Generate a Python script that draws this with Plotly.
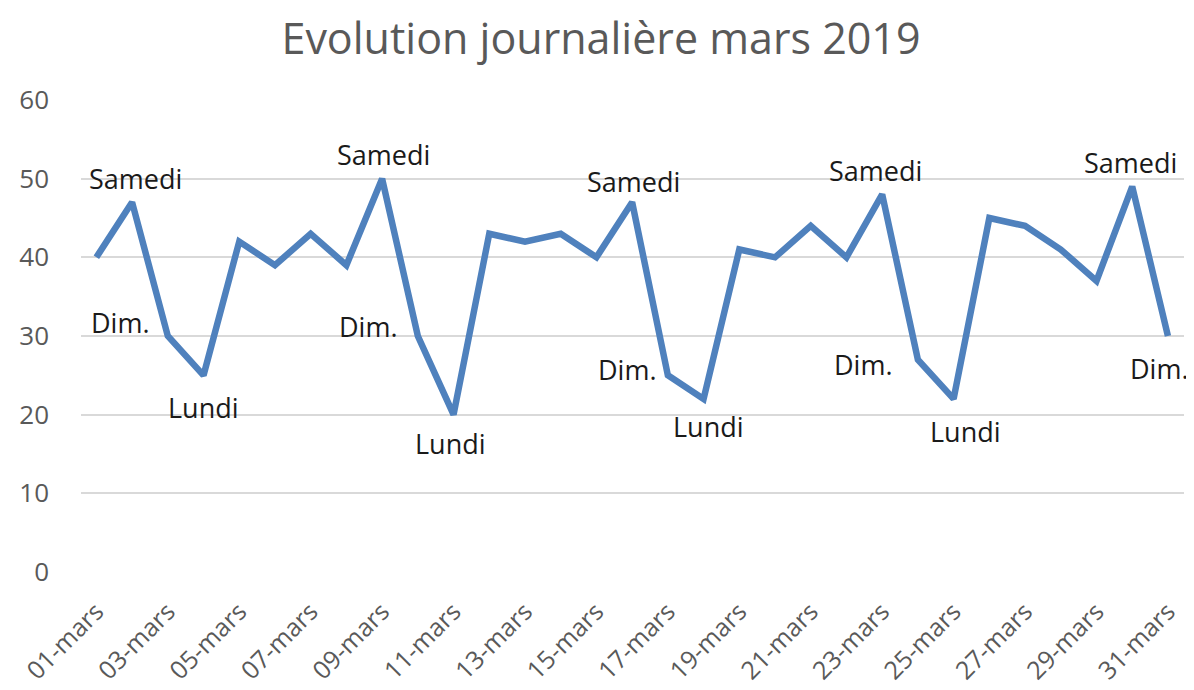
import plotly.graph_objects as go

# ---- data ----
dates = [f"{d:02d}-mars" for d in range(1, 32)]
values = [40, 47, 30, 25, 42, 39, 43, 39, 50, 30, 20, 43, 42, 43, 40, 47,
          25, 22, 41, 40, 44, 40, 48, 27, 22, 45, 44, 41, 37, 49, 30]
tick_labels = dates[::2]
title_text = "Evolution journalière mars 2019"

# day labels: (index of day, text)
day_labels = [
    (1, "Samedi"), (2, "Dim."), (3, "Lundi"),
    (8, "Samedi"), (9, "Dim."), (10, "Lundi"),
    (15, "Samedi"), (16, "Dim."), (17, "Lundi"),
    (22, "Samedi"), (23, "Dim."), (24, "Lundi"),
    (29, "Samedi"), (30, "Dim."),
]

# label placement offsets in pixels (style, not data)
offsets = {
    1: (3, 24), 2: (-47, 14), 3: (0, -32),
    8: (1, 24), 9: (-49, 10), 10: (-3, -29),
    15: (1, 21), 16: (-40, 6), 17: (5, -28),
    22: (-7, 24), 23: (-54, -5), 24: (12, -33),
    29: (-2, 24), 30: (-8, -32),
}

fig = go.Figure()
fig.add_trace(go.Scatter(
    x=dates, y=values, mode="lines",
    line=dict(color="#4F81BD", width=6.5),
    hoverinfo="x+y", showlegend=False,
))

annotations = []
for idx, txt in day_labels:
    dx, dy = offsets[idx]
    annotations.append(dict(
        x=dates[idx], y=values[idx], text=txt, showarrow=False,
        xshift=dx, yshift=dy, xanchor="center", yanchor="middle",
        font=dict(family="Open Sans", size=27, color="#1a1a1a"),
    ))

# the page body adds an 8px offset, so the figure is 8px smaller
fig.update_layout(
    width=1186, height=682,
    margin=dict(l=73, r=10, t=92, b=118, autoexpand=False),
    paper_bgcolor="white", plot_bgcolor="white",
    title=dict(text=title_text, x=0.5, xanchor="center", y=0.955, yanchor="middle",
               font=dict(family="Open Sans", size=43, color="#595959")),
    annotations=annotations,
    xaxis=dict(
        type="category", range=[-0.43, 30.45], automargin=False,
        tickmode="array", tickvals=tick_labels, ticktext=tick_labels,
        tickangle=-45, showgrid=False, zeroline=False, showline=False,
        ticks="", ticklen=0, ticklabelstandoff=19,
        tickfont=dict(family="Open Sans", size=25, color="#595959"),
    ),
    yaxis=dict(
        range=[0, 60], dtick=10, showgrid=True, gridcolor="#D9D9D9", gridwidth=2,
        zeroline=False, showline=False, ticks="", automargin=False,
        tickfont=dict(family="Open Sans", size=26, color="#595959"),
        ticklabelstandoff=31,
    ),
)

fig.write_html("out.html")
